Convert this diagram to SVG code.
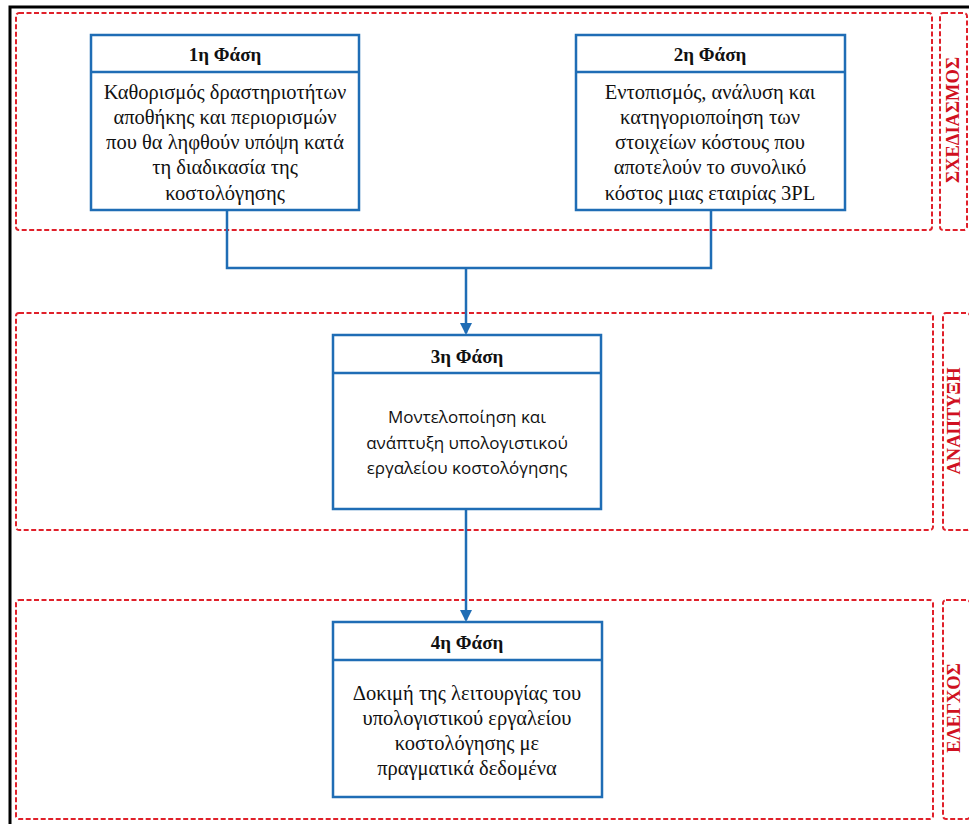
<svg xmlns="http://www.w3.org/2000/svg" width="969" height="824" viewBox="0 0 969 824">
<defs>
<marker id="arr" markerWidth="12" markerHeight="12" refX="10" refY="6" orient="auto" markerUnits="userSpaceOnUse">
<path d="M0,0 L12,6 L0,12 Z" fill="#1F6DB5"/>
</marker>
</defs>
<style>
.frame{fill:none;stroke:#000;stroke-width:3}
.zone{fill:none;stroke:#E0202A;stroke-width:2;stroke-dasharray:5 2.5}
.box{fill:#fff;stroke:#1F6DB5;stroke-width:2.5}
.sep{stroke:#1F6DB5;stroke-width:2.5}
.conn{fill:none;stroke:#1F6DB5;stroke-width:2.5}
.title{font-family:"Liberation Serif","Times New Roman",serif;font-weight:bold;font-size:19px;fill:#111;text-anchor:middle}
.body{font-family:"Liberation Serif","Times New Roman",serif;font-size:20.5px;fill:#111;text-anchor:middle}
.sans{font-family:"Open Sans","Noto Sans",sans-serif;font-size:17px;fill:#111;text-anchor:middle}
.lab{font-family:"Liberation Serif","Times New Roman",serif;font-weight:bold;font-size:18.5px;fill:#D01020;text-anchor:middle}
</style>
<rect width="969" height="824" fill="#fff"/>
<rect class="frame" x="10" y="7" width="980" height="840"/>
<g id="zones">
<rect class="zone" x="16" y="13" width="916" height="217" rx="3"/>
<rect class="zone" x="940" y="13" width="27" height="217" rx="3"/>
<rect class="zone" x="16" y="313" width="917" height="217" rx="3"/>
<rect class="zone" x="943" y="313" width="27" height="217" rx="3"/>
<rect class="zone" x="16" y="600" width="917" height="219" rx="3"/>
<rect class="zone" x="943" y="600" width="27" height="219" rx="3"/>
<text class="lab" transform="translate(959,120) rotate(-90)">ΣΧΕΔΙΑΣΜΟΣ</text>
<text class="lab" transform="translate(960,421) rotate(-90)">ΑΝΑΠΤΥΞΗ</text>
<text class="lab" transform="translate(960,708) rotate(-90)">ΕΛΕΓΧΟΣ</text>
</g>
<g id="connectors">
<path class="conn" d="M227,210 V268 H711 V210"/>
<path class="conn" d="M466,268 V333" marker-end="url(#arr)"/>
<path class="conn" d="M466,509 V620" marker-end="url(#arr)"/>
</g>
<g id="phase1">
<rect class="box" x="91" y="35" width="268" height="175"/>
<line class="sep" x1="91" y1="72" x2="359" y2="72"/>
<text class="title" x="225" y="61">1η Φάση</text>
<text class="body" x="225" y="99">Καθορισμός δραστηριοτήτων</text>
<text class="body" x="225" y="124">αποθήκης και περιορισμών</text>
<text class="body" x="225" y="149">που θα ληφθούν υπόψη κατά</text>
<text class="body" x="225" y="174">τη διαδικασία της</text>
<text class="body" x="225" y="200">κοστολόγησης</text>
</g>
<g id="phase2">
<rect class="box" x="576" y="35" width="269" height="175"/>
<line class="sep" x1="576" y1="72" x2="845" y2="72"/>
<text class="title" x="710" y="61">2η Φάση</text>
<text class="body" x="710" y="99">Εντοπισμός, ανάλυση και</text>
<text class="body" x="710" y="124">κατηγοριοποίηση των</text>
<text class="body" x="710" y="149">στοιχείων κόστους που</text>
<text class="body" x="710" y="174">αποτελούν το συνολικό</text>
<text class="body" x="710" y="200">κόστος μιας εταιρίας 3PL</text>
</g>
<g id="phase3">
<rect class="box" x="333" y="335" width="268" height="174"/>
<line class="sep" x1="333" y1="373" x2="601" y2="373"/>
<text class="title" x="467" y="363">3η Φάση</text>
<text class="sans" x="467" y="423">Μοντελοποίηση και</text>
<text class="sans" x="467" y="449">ανάπτυξη υπολογιστικού</text>
<text class="sans" x="467" y="474">εργαλείου κοστολόγησης</text>
</g>
<g id="phase4">
<rect class="box" x="333" y="622" width="269" height="175"/>
<line class="sep" x1="333" y1="660" x2="602" y2="660"/>
<text class="title" x="467" y="649">4η Φάση</text>
<text class="body" x="467" y="700">Δοκιμή της λειτουργίας του</text>
<text class="body" x="467" y="725">υπολογιστικού εργαλείου</text>
<text class="body" x="467" y="750">κοστολόγησης με</text>
<text class="body" x="467" y="775">πραγματικά δεδομένα</text>
</g>
</svg>
